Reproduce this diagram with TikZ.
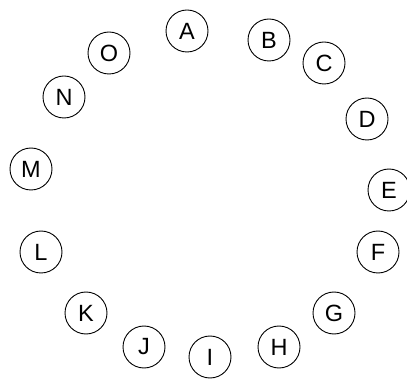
\documentclass[tikz,border=0pt]{standalone}
\usepackage{fontspec}
\setmainfont{Liberation Sans}
\begin{document}
\begin{tikzpicture}[x=1pt,y=-1pt,
  vtx/.style={circle,draw,line width=0.9pt,minimum size=42pt,inner sep=0pt,font=\fontsize{23.5}{23.5}\selectfont}]
\useasboundingbox (0,0) rectangle (407,379);
\node[vtx] (A) at (187,31) {A};
\node[vtx] (B) at (269,40) {B};
\node[vtx] (C) at (324,63) {C};
\node[vtx] (D) at (367,119) {D};
\node[vtx] (E) at (389,190) {E};
\node[vtx] (F) at (378,252) {F};
\node[vtx] (G) at (334,313) {G};
\node[vtx] (H) at (279,347) {H};
\node[vtx] (I) at (210,357) {I};
\node[vtx] (J) at (144,347) {J};
\node[vtx] (K) at (86,313) {K};
\node[vtx] (L) at (41,252) {L};
\node[vtx] (M) at (31,169) {M};
\node[vtx] (N) at (64,97) {N};
\node[vtx] (O) at (109,53) {O};
\end{tikzpicture}
\end{document}
